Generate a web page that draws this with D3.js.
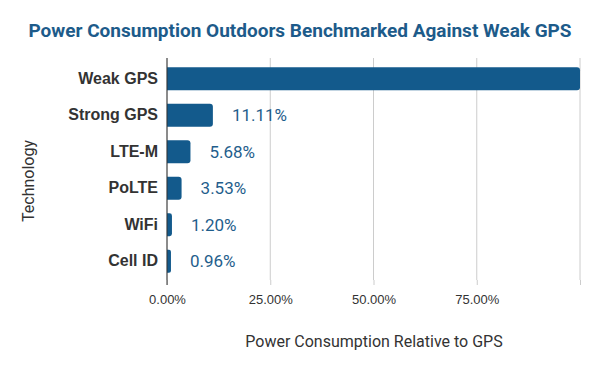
<!DOCTYPE html>
<html>
<head>
<meta charset="utf-8">
<title>Power Consumption Outdoors</title>
<script src="https://d3js.org/d3.v7.min.js"></script>
<style>
body { margin: 0; background: #fff; font-family: Roboto, "Noto Sans", sans-serif; }
.title { font-size: 19px; font-weight: bold; fill: #1d5b8a; }
.cat text { font-size: 16px; font-weight: bold; fill: #333; }
.xaxis text { font-size: 13px; fill: #333; }
.label { font-size: 16px; fill: #333; }
.value { font-size: 17px; fill: #1f5e8c; }
</style>
</head>
<body>
<div id="chart"></div>
<script>
var categories = ["Weak GPS", "Strong GPS", "LTE-M", "PoLTE", "WiFi", "Cell ID"];
var values = [100, 11.11, 5.68, 3.53, 1.20, 0.96];
var showLabel = [false, true, true, true, true, true];
var xTicks = [0, 25, 50, 75, 100];
var xTickLabels = ["0.00%", "25.00%", "50.00%", "75.00%", ""];

var W = 600, H = 371;
var margin = { top: 60, right: 19, bottom: 91, left: 167 };
var width = W - margin.left - margin.right;
var height = H - margin.top - margin.bottom;

var rows = categories.map(function(c, i) {
  return { cat: c, value: values[i], show: showLabel[i] };
});

var svg = d3.select("#chart").append("svg")
  .attr("width", W)
  .attr("height", H);

svg.append("text")
  .attr("class", "title")
  .attr("x", W / 2)
  .attr("y", 37)
  .attr("text-anchor", "middle")
  .text("Power Consumption Outdoors Benchmarked Against Weak GPS");

var g = svg.append("g")
  .attr("transform", "translate(" + margin.left + "," + margin.top + ")");

var x = d3.scaleLinear().domain([0, 100]).range([0, width - 1]);
var y = d3.scaleBand().domain(categories).range([0, height]).paddingInner(0.37).paddingOuter(0.2);

// gridlines + ticks
var xAxis = g.append("g")
  .attr("class", "xaxis")
  .attr("transform", "translate(0," + height + ")")
  .call(d3.axisBottom(x).tickValues(xTicks)
    .tickFormat(function(d, i) { return xTickLabels[i]; })
    .tickSize(5).tickPadding(7));
xAxis.select(".domain").remove();
xAxis.selectAll("line").attr("stroke", "#ccc");
xAxis.selectAll("text").attr("dy", "0.9em");

g.append("g")
  .selectAll("line")
  .data(xTicks)
  .enter().append("line")
  .attr("x1", function(d) { return x(d); })
  .attr("x2", function(d) { return x(d); })
  .attr("y1", -2)
  .attr("y2", height)
  .attr("stroke", "#ccc")
  .attr("stroke-width", 1);

// bars, rounded at the end only
var r = 3;
g.selectAll("path.bar")
  .data(rows)
  .enter().append("path")
  .attr("class", "bar")
  .attr("fill", "#135a8c")
  .attr("d", function(d) {
    var x0 = x(0), x1 = x(d.value), y0 = y(d.cat), h = y.bandwidth();
    var rr = Math.min(r, (x1 - x0) / 2);
    return "M" + x0 + "," + y0 +
      "H" + (x1 - rr) +
      "Q" + x1 + "," + y0 + " " + x1 + "," + (y0 + rr) +
      "V" + (y0 + h - rr) +
      "Q" + x1 + "," + (y0 + h) + " " + (x1 - rr) + "," + (y0 + h) +
      "H" + x0 + "Z";
  });

g.selectAll("text.value")
  .data(rows.filter(function(d) { return d.show; }))
  .enter().append("text")
  .attr("class", "value")
  .attr("x", function(d) { return x(d.value) + 19; })
  .attr("y", function(d) { return y(d.cat) + y.bandwidth() / 2; })
  .attr("dy", "0.35em")
  .text(function(d) { return d.value.toFixed(2) + "%"; });

// category axis
var yAxis = g.append("g")
  .attr("class", "cat")
  .call(d3.axisLeft(y).tickSize(0).tickPadding(9));
yAxis.select(".domain").remove();

g.append("line")
  .attr("x1", x(0)).attr("x2", x(0))
  .attr("y1", -2).attr("y2", height + 5)
  .attr("stroke", "#333")
  .attr("stroke-width", 1);

svg.append("text")
  .attr("class", "label")
  .attr("text-anchor", "middle")
  .attr("transform", "translate(34,181) rotate(-90)")
  .text("Technology");

svg.append("text")
  .attr("class", "label")
  .attr("text-anchor", "middle")
  .attr("x", 374)
  .attr("y", 347)
  .text("Power Consumption Relative to GPS");
</script>
</body>
</html>
